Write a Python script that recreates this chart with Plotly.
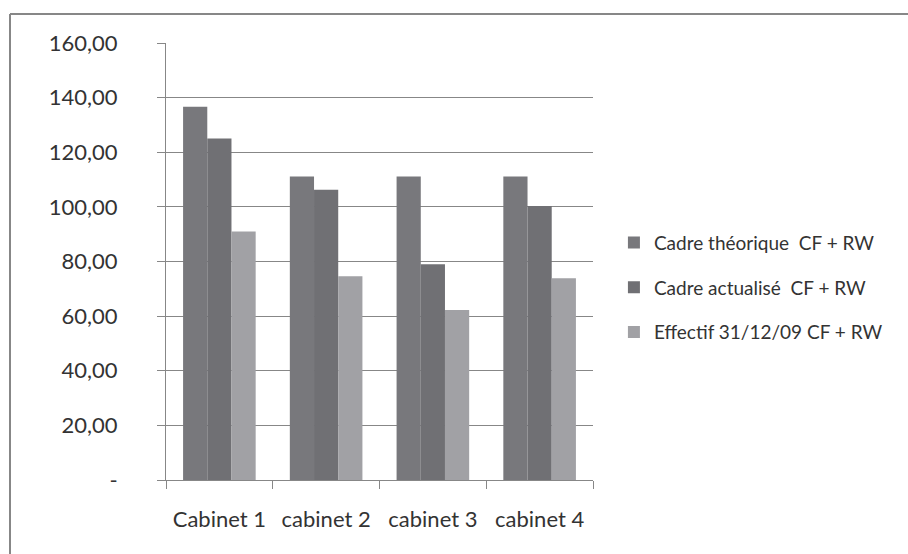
import plotly.graph_objects as go

categories = ["Cabinet 1", "cabinet 2", "cabinet 3", "cabinet 4"]
series_names = ["Cadre théorique  CF + RW", "Cadre actualisé  CF + RW", "Effectif 31/12/09 CF + RW"]
cadre_theorique = [136.7, 111.1, 111.1, 111.1]
cadre_actualise = [125.0, 106.3, 79.0, 100.3]
effectif = [91.0, 74.6, 62.2, 73.9]
tick_vals = [0, 20, 40, 60, 80, 100, 120, 140, 160]
tick_text = ["-", "20,00", "40,00", "60,00", "80,00", "100,00", "120,00", "140,00", "160,00"]

colors = ["#78787c", "#707074", "#a1a1a5"]
font_family = "Lato, Open Sans, sans-serif"
text_color = "#333333"

fig = go.Figure()
for i, (name, vals) in enumerate(zip(series_names, [cadre_theorique, cadre_actualise, effectif])):
    fig.add_trace(go.Bar(
        x=categories, y=vals, name=name,
        marker=dict(color=colors[i], line=dict(width=0)),
        legendgroup=f"g{i}",
    ))

fig.update_layout(
    width=908, height=554,
    margin=dict(l=166, r=315, t=43, b=74, autoexpand=False),
    paper_bgcolor="white", plot_bgcolor="white",
    barmode="group", bargap=0.32, bargroupgap=0,
    font=dict(family=font_family, color=text_color, size=22),
    showlegend=True,
    legend=dict(
        x=1.049, xanchor="left", y=0.44, yanchor="middle",
        font=dict(size=19, color=text_color),
        tracegroupgap=17, traceorder="grouped",
        itemwidth=30, bgcolor="rgba(0,0,0,0)",
    ),
    xaxis=dict(
        showline=True, linecolor="#878787", linewidth=1,
        ticks="outside", ticklen=8, tickcolor="#878787", tickson="boundaries",
        showgrid=False, tickfont=dict(size=22), ticklabelstandoff=20,
    ),
    yaxis=dict(
        range=[0, 160], tickvals=tick_vals, ticktext=tick_text,
        showline=True, linecolor="#878787", linewidth=1,
        ticks="outside", ticklen=8, tickcolor="#878787",
        showgrid=True, gridcolor="#878787", gridwidth=1,
        zeroline=False, tickfont=dict(size=22), ticklabelstandoff=35,
    ),
    shapes=[
        dict(type="line", xref="paper", yref="paper",
             x0=(10 - 166) / 427, x1=(10 - 166) / 427, y0=(480 - 14) / 437, y1=-0.3,
             line=dict(color="#878787", width=2)),
        dict(type="line", xref="paper", yref="paper",
             x0=(10 - 166) / 427, x1=1.8, y0=(480 - 14) / 437, y1=(480 - 14) / 437,
             line=dict(color="#878787", width=2)),
    ],
)

fig.write_html("out.html")
